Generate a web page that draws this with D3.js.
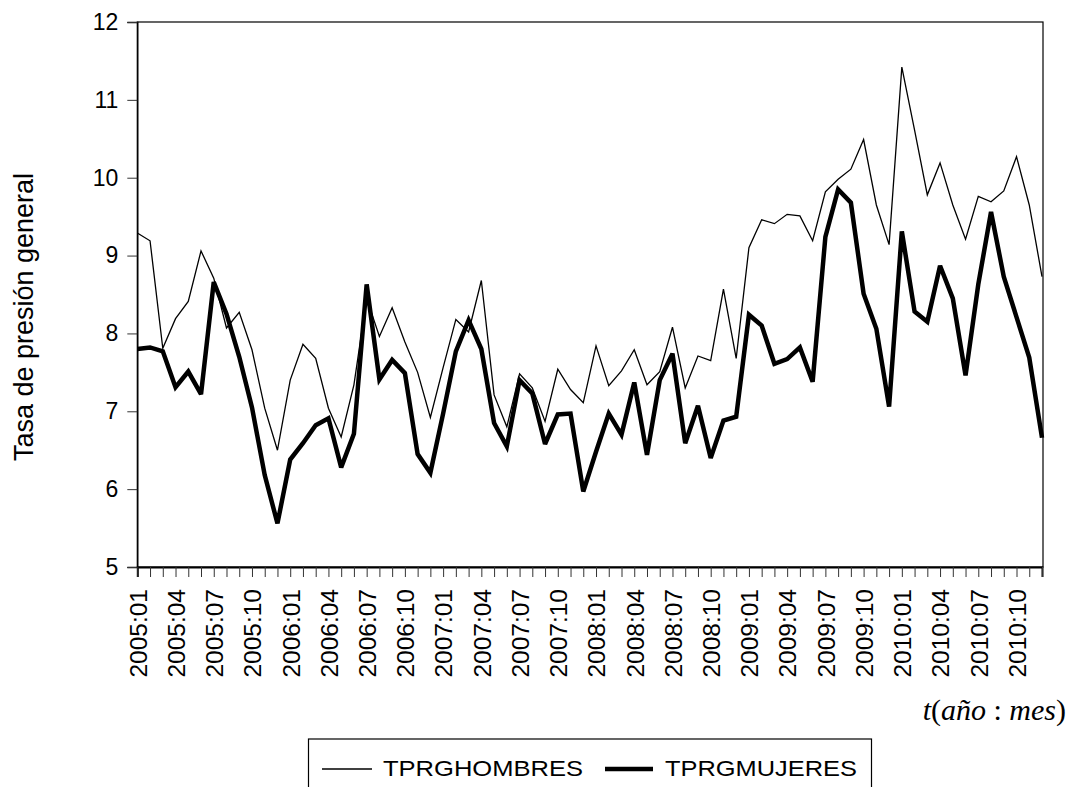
<!DOCTYPE html>
<html>
<head>
<meta charset="utf-8">
<script src="https://cdn.jsdelivr.net/npm/d3@7"></script>
<style>
  html, body { margin: 0; padding: 0; background: #fff; }
  svg { display: block; }
  text { font-family: "Liberation Sans", Arial, sans-serif; fill: #000; }
</style>
</head>
<body>
<svg id="chart" width="1070" height="787"></svg>
<script>
// ---- data ----
const years = ["2005", "2006", "2007", "2008", "2009", "2010"];
const monthCodes = ["01","02","03","04","05","06","07","08","09","10","11","12"];
const periods = [];
years.forEach(y => monthCodes.forEach(m => periods.push(y + ":" + m)));

const hombres = [
  9.29, 9.19, 7.81, 8.19, 8.41, 9.06, 8.71, 8.07, 8.27, 7.79, 7.04, 6.50,
  7.40, 7.86, 7.68, 7.04, 6.67, 7.34, 8.45, 7.96, 8.33, 7.89, 7.50, 6.92,
  7.56, 8.18, 8.02, 8.68, 7.21, 6.80, 7.48, 7.30, 6.87, 7.54, 7.28, 7.11,
  7.84, 7.33, 7.52, 7.79, 7.34, 7.51, 8.08, 7.30, 7.71, 7.65, 8.57, 7.68,
  9.10, 9.46, 9.41, 9.53, 9.51, 9.19, 9.82, 9.98, 10.11, 10.49, 9.65, 9.14,
  11.42, 10.61, 9.78, 10.19, 9.65, 9.21, 9.76, 9.69, 9.83, 10.27, 9.65, 8.73
];
const mujeres = [
  7.80, 7.82, 7.77, 7.31, 7.51, 7.22, 8.66, 8.25, 7.70, 7.05, 6.18, 5.56,
  6.38, 6.59, 6.82, 6.91, 6.28, 6.71, 8.63, 7.41, 7.66, 7.49, 6.45, 6.21,
  6.97, 7.77, 8.17, 7.80, 6.85, 6.55, 7.40, 7.23, 6.58, 6.96, 6.97, 5.97,
  6.48, 6.97, 6.70, 7.37, 6.44, 7.40, 7.74, 6.59, 7.07, 6.40, 6.88, 6.93,
  8.24, 8.10, 7.61, 7.67, 7.82, 7.38, 9.24, 9.85, 9.68, 8.51, 8.06, 7.06,
  9.31, 8.28, 8.15, 8.87, 8.45, 7.46, 8.63, 9.56, 8.73, 8.21, 7.69, 6.66
];
const yTicks = [5, 6, 7, 8, 9, 10, 11, 12];
const seriesNames = ["TPRGHOMBRES", "TPRGMUJERES"];
const yTitle = "Tasa de presión general";

// ---- layout ----
const L = 137.3, R = 1043, T = 22, B = 567;
const svg = d3.select("#chart");

const x = d3.scalePoint().domain(periods).range([L, 1042]);
const y = d3.scaleLinear().domain([5, 12]).range([B, T]);

// frame
svg.append("rect")
  .attr("x", L).attr("y", T).attr("width", R - L).attr("height", B - T)
  .attr("fill", "none").attr("stroke", "#000").attr("stroke-width", 1.2);

// y axis
const yAxis = d3.axisLeft(y).tickValues(yTicks).tickSize(10).tickPadding(9).tickFormat(d3.format("d"));
const gy = svg.append("g").attr("transform", `translate(${L},0)`).call(yAxis);
gy.select(".domain").attr("stroke-width", 1.4);
gy.selectAll(".tick line").attr("stroke", "#333");
gy.selectAll(".tick text").style("font-size", "23px").style("font-family", "'Liberation Sans', Arial, sans-serif");

// x axis
const xAxis = d3.axisBottom(x).tickSize(10).tickPadding(0)
  .tickFormat((d, i) => i % 3 === 0 ? d : "");
const gx = svg.append("g").attr("transform", `translate(0,${B})`).call(xAxis);
gx.select(".domain").attr("stroke-width", 2);
gx.selectAll(".tick line").attr("stroke", "#333");
gx.selectAll(".tick text")
  .style("font-size", "24.5px")
  .style("font-family", "'Liberation Sans', Arial, sans-serif")
  .attr("text-anchor", "end")
  .attr("dy", "0.36em")
  .attr("transform", "translate(0,22) rotate(-90)")
  .attr("x", 0).attr("y", 0);

// y title
svg.append("text")
  .attr("transform", "translate(33,317) rotate(-90)")
  .attr("text-anchor", "middle")
  .style("font-size", "27px")
  .text(yTitle);

// x title t(año : mes)
const xt = svg.append("text")
  .attr("x", 1066).attr("y", 720)
  .attr("text-anchor", "end")
  .style("font-family", "'Liberation Serif', 'Times New Roman', serif")
  .style("font-size", "30px");
xt.append("tspan").style("font-style", "italic").text("t");
xt.append("tspan").text("(");
xt.append("tspan").style("font-style", "italic").text("año");
xt.append("tspan").text(" : ");
xt.append("tspan").style("font-style", "italic").text("mes");
xt.append("tspan").text(")");

// lines
const line = d3.line().x((d, i) => x(periods[i])).y(d => y(d));
svg.append("path").datum(hombres)
  .attr("d", line).attr("fill", "none").attr("stroke", "#000")
  .attr("stroke-width", 1.3).attr("stroke-linejoin", "miter");
svg.append("path").datum(mujeres)
  .attr("d", line).attr("fill", "none").attr("stroke", "#000")
  .attr("stroke-width", 4.5).attr("stroke-linejoin", "miter").attr("stroke-miterlimit", 3);

// legend
const lg = svg.append("g");
lg.append("rect").attr("x", 308.5).attr("y", 739).attr("width", 563).attr("height", 70)
  .attr("fill", "#fff").attr("stroke", "#000").attr("stroke-width", 1.2);
lg.append("line").attr("x1", 322).attr("x2", 372).attr("y1", 769).attr("y2", 769)
  .attr("stroke", "#000").attr("stroke-width", 1.3);
lg.append("text").attr("x", 383).attr("y", 776)
  .attr("textLength", 200).attr("lengthAdjust", "spacingAndGlyphs")
  .style("font-size", "22.5px").text(seriesNames[0]);
lg.append("line").attr("x1", 605).attr("x2", 653).attr("y1", 769).attr("y2", 769)
  .attr("stroke", "#000").attr("stroke-width", 4.5);
lg.append("text").attr("x", 665).attr("y", 776)
  .attr("textLength", 192).attr("lengthAdjust", "spacingAndGlyphs")
  .style("font-size", "22.5px").text(seriesNames[1]);
</script>
</body>
</html>
